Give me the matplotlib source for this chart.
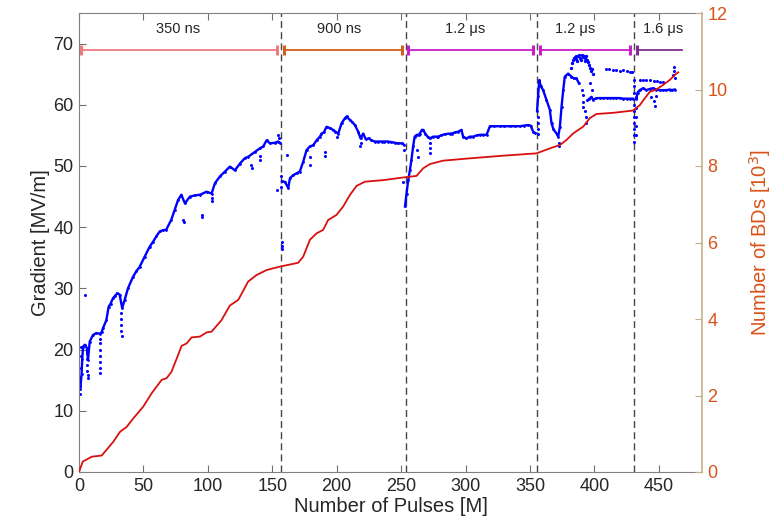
import matplotlib
matplotlib.use("Agg")
import matplotlib.pyplot as plt
import numpy as np

plt.rcParams['font.family'] = ['Liberation Sans', 'DejaVu Sans']

# ---------------- data ----------------
# Gradient main traces per pulse-length phase (x: M pulses, y: MV/m)
p1_x = [1.0, 2.0, 2.5, 3.2, 4.5, 6.0, 7.0, 8.3, 10.9, 13.4, 16.0, 17.5, 18.6, 21.2, 23.0,
        24.5, 26.4, 28.0, 29.7, 31.5, 33.5, 35.4, 38.0, 41.9, 44.5, 47.0, 51.0, 54.8, 57.4, 60.0,
        62.6, 65.0, 67.7, 71.6, 74.2, 76.8, 79.4, 82.2, 86.1, 90.0, 93.9, 99.0, 102.9, 105.5, 109.4,
        113.3, 117.1, 121.0, 124.9, 128.8, 131.3, 136.5, 140.4, 143.0, 145.6, 148.2, 152.0, 154.6, 156.0]
p1_y = [13.5, 16.0, 18.5, 20.5, 20.8, 20.3, 18.3, 21.3, 22.4, 22.7, 22.6, 22.8, 23.5, 24.8, 27.0,
        27.5, 28.4, 28.8, 29.2, 29.0, 26.8, 28.1, 30.0, 31.9, 32.8, 33.5, 35.2, 36.8, 37.6, 38.5,
        39.3, 39.5, 39.6, 41.2, 42.8, 44.4, 45.3, 43.9, 45.0, 45.2, 45.3, 45.8, 45.5, 47.2, 48.3,
        49.1, 49.9, 49.3, 50.4, 51.3, 51.5, 52.3, 52.9, 53.2, 54.2, 53.7, 53.8, 54.0, 53.8]

p2_x = [157.5, 159.8, 162.4, 163.7, 166.2, 168.8, 171.4, 174.0, 176.6, 179.2, 181.8, 184.4, 187.0, 188.2,
        190.0, 192.1, 194.5, 197.3, 199.0, 201.2, 203.8, 206.4, 207.7, 210.3, 212.0, 214.1, 216.7, 218.5,
        220.5, 222.5, 225.0, 227.0, 229.6, 232.0, 234.8, 237.0, 240.0, 242.5, 245.1, 247.5, 250.3, 252.0]
p2_y = [47.5, 47.4, 46.4, 48.0, 48.5, 48.8, 49.1, 50.7, 52.6, 53.2, 53.4, 54.2, 54.8, 55.3,
        55.5, 56.4, 56.2, 55.9, 55.6, 55.3, 57.0, 57.8, 58.1, 57.5, 57.2, 56.7, 55.6, 54.5,
        55.3, 54.4, 54.5, 54.2, 54.0, 54.0, 54.0, 54.0, 54.0, 53.9, 53.8, 53.7, 53.7, 53.5]

p3_x = [253.0, 254.2, 255.5, 256.8, 258.0, 259.3, 260.5, 262.2, 263.5, 264.5, 266.1, 267.1, 268.7, 270.5,
        272.3, 274.9, 277.5, 278.7, 281.0, 284.0, 287.8, 289.1, 292.0, 294.2, 296.8, 298.1, 300.7, 303.3,
        305.9, 308.5, 311.1, 313.7, 316.3, 318.9, 322.0, 326.6, 330.0, 334.4, 338.0, 342.1, 345.5, 348.6,
        350.5, 352.5, 354.0]
p3_y = [43.4, 45.5, 47.7, 49.3, 51.0, 53.2, 54.8, 55.1, 55.1, 55.3, 55.9, 55.9, 55.3, 54.8,
        54.5, 54.8, 54.8, 54.8, 55.0, 55.2, 55.3, 55.3, 55.5, 55.6, 55.9, 54.8, 54.5, 54.8,
        54.8, 55.0, 55.1, 55.1, 55.1, 56.5, 56.5, 56.5, 56.5, 56.5, 56.5, 56.5, 56.6, 56.7,
        56.6, 55.6, 55.4]

p4_x = [355.5, 356.3, 357.2, 358.5, 360.2, 362.8, 365.4, 366.7, 368.2, 370.6, 371.9, 373.2, 374.5,
        375.8, 377.0, 379.6, 382.2, 384.0, 386.1, 388.0]
p4_y = [59.0, 61.5, 64.0, 63.0, 62.4, 60.8, 59.2, 57.0, 56.0, 55.3, 54.8, 56.4, 59.7,
        62.4, 64.6, 65.1, 64.6, 64.3, 64.3, 63.5]
p4b_x = [396.0, 397.7, 399.0, 401.6, 404.2, 407.0, 409.5, 412.0, 414.5, 417.0, 419.7,
         422.3, 425.0, 427.5, 430.0]
p4b_y = [61.0, 61.3, 60.8, 61.1, 61.1, 61.1, 61.1, 61.1, 61.1, 61.1, 61.1,
         61.0, 61.0, 61.0, 61.0]
p4c_x = [381.5, 382.5, 383.5, 384.2, 385.0, 385.6, 386.1, 387.0, 388.0, 389.0, 390.0, 391.0,
         392.0, 393.0, 393.8, 394.5, 395.1, 395.8, 396.5, 397.5, 398.2, 399.0, 386.5, 389.5, 392.5]
p4c_y = [66.0, 66.8, 67.3, 67.6, 67.8, 67.5, 67.9, 68.0, 68.1, 67.7, 68.1, 67.8,
         68.0, 67.6, 67.9, 67.4, 67.0, 66.5, 66.0, 65.5, 65.8, 65.1, 67.2, 67.3, 67.2]

p5_x = [432.6, 433.5, 435.2, 437.8, 440.4, 443.0, 445.5, 448.0, 450.7, 453.3, 455.9, 458.5, 460.0, 462.4]
p5_y = [61.0, 62.0, 62.4, 62.7, 62.4, 62.6, 62.7, 62.5, 62.4, 62.4, 62.4, 62.5, 62.4, 62.5]

# sparse / scattered gradient points
stray_x = [0.8, 1.0, 1.0, 1.1, 1.2, 1.3, 1.5,
           6.4, 6.4, 6.5, 6.5, 6.6, 6.6,
           16.0, 16.0, 16.1, 16.1, 16.2, 16.2, 16.3,
           32.8, 32.8, 32.9, 32.9, 33.0,
           4.9, 80.7, 81.2, 95.2, 95.8, 102.9, 103.0, 134.0, 133.6, 140.4, 140.5,
           154.6, 155.2, 154.0, 157.2, 157.2, 157.3, 156.8, 156.9,
           161.1, 179.2, 179.3, 190.8, 191.3, 199.9, 218.0, 218.5,
           251.6, 252.2, 262.6, 263.2, 272.3, 272.4, 272.5,
           356.3, 356.4, 356.5, 356.6, 372.5, 372.6,
           390.5, 390.8, 391.2, 391.5, 392.8, 393.5, 393.8, 394.5, 396.5, 398.0,
           409.0, 411.0, 414.5, 417.0, 419.7, 422.3, 425.0, 427.5, 429.5,
           430.5, 430.5, 430.6, 430.6, 430.7, 430.7, 430.8, 430.8, 430.9, 430.9,
           432.0, 432.0, 432.1, 432.1, 432.2,
           435.2, 437.5, 440.0, 443.0, 446.0, 448.5, 450.7, 453.0,
           444.0, 446.0, 448.0, 447.0, 461.1, 461.6, 462.1, 462.4]
stray_y = [12.8, 14.0, 14.8, 15.5, 17.0, 19.0, 20.5,
           19.5, 18.5, 17.5, 16.5, 15.8, 15.3,
           21.8, 21.0, 20.0, 19.0, 18.0, 17.0, 16.2,
           26.0, 25.0, 24.0, 23.0, 22.2,
           28.9, 41.2, 40.8, 42.0, 41.6, 44.8, 44.2, 49.6, 50.2, 51.6, 51.0,
           55.1, 54.6, 46.1, 37.6, 37.0, 36.4, 48.3, 46.6,
           51.8, 51.5, 50.2, 52.3, 51.7, 54.8, 53.2, 53.8,
           47.4, 52.6, 52.6, 51.5, 53.8, 53.0, 52.1,
           58.0, 57.0, 56.0, 55.2, 53.8, 53.2,
           62.4, 61.6, 60.4, 59.6, 59.0, 58.0, 57.0, 60.8, 63.5, 62.5,
           65.9, 65.8, 65.7, 65.7, 65.6, 65.7, 65.5, 65.4, 65.3,
           64.0, 63.0, 62.0, 60.0, 59.0, 58.0, 57.0, 56.0, 55.0, 54.0,
           61.3, 59.5, 58.0, 56.5, 55.1,
           64.0, 64.0, 64.1, 64.0, 63.9, 63.9, 63.8, 63.7,
           61.2, 60.6, 61.5, 59.8, 64.9, 65.6, 66.2, 64.3]

# cumulative breakdowns (thousands)
bd_x = [0, 2.9, 9.8, 17.6, 21.4, 26.6, 31.8, 37.0, 42.1, 49.9, 56.4, 64.2, 67.9, 71.8, 79.7,
        83.5, 87.4, 93.9, 99.0, 102.9, 110.6, 117.0, 123.6, 131.3, 137.8, 145.6, 156.0, 170.1, 174.0,
        179.2, 184.4, 189.5, 193.4, 199.8, 205.0, 210.2, 215.4, 221.9, 236.0, 251.6, 261.9, 267.1,
        272.3, 282.6, 303.3, 329.2, 355.0, 365.4, 373.2, 378.3, 383.5, 391.3, 396.4, 401.6, 414.5,
        430.0, 435.2, 439.1, 443.0, 448.1, 453.3, 458.5, 462.4, 465.0]
bd_k = [0.0, 0.27, 0.40, 0.43, 0.58, 0.79, 1.05, 1.18, 1.40, 1.71, 2.06, 2.41, 2.45, 2.62, 3.30,
        3.36, 3.52, 3.54, 3.65, 3.67, 3.97, 4.35, 4.50, 4.98, 5.15, 5.28, 5.37, 5.47, 5.63,
        6.07, 6.24, 6.33, 6.59, 6.72, 6.94, 7.24, 7.48, 7.59, 7.63, 7.70, 7.74, 7.94,
        8.05, 8.14, 8.20, 8.27, 8.33, 8.46, 8.55, 8.68, 8.85, 9.03, 9.25, 9.36, 9.39,
        9.45, 9.59, 9.77, 9.94, 10.00, 10.12, 10.25, 10.38, 10.45]

# pulse-length phases
phase_bounds = [156.5, 253.5, 355.5, 431.0]
phase_labels = ['350 ns', '900 ns', '1.2 μs', '1.2 μs', '1.6 μs']
phase_label_x = [77, 202, 300, 385, 453]
arrow_start = [1.3, 159.0, 255.5, 357.6, 433.0]
arrow_end = [153.3, 250.3, 352.0, 427.5, 468.3]
arrow_colors = ['#f07a80', '#d0601a', '#c81ec8', '#c81ec8', '#7e2f8e']
arrow_right_tick = [True, True, True, True, False]

# ---------------- plot ----------------
fig = plt.figure(figsize=(7.79, 5.30), dpi=100)
ax = fig.add_axes([79/779, 1 - 472/530, (702 - 79)/779, (472 - 13)/530])

blue = '#0000ff'
for xs, ys in [(p1_x, p1_y), (p2_x, p2_y), (p3_x, p3_y), (p4_x, p4_y), (p4b_x, p4b_y),
               (p5_x, p5_y)]:
    ax.plot(xs, ys, color=blue, lw=1.7, marker='o', ms=2.0, mew=0)
ax.plot(p4c_x, p4c_y, ls='none', color=blue, marker='o', ms=2.4, mew=0)
ax.plot(stray_x, stray_y, ls='none', color=blue, marker='o', ms=2.2, mew=0)

for xb in phase_bounds:
    ax.axvline(xb, color='#454545', ls=(0, (5, 3)), lw=1.0, zorder=1)

for x0, x1, c, lab, lx, rt in zip(arrow_start, arrow_end, arrow_colors, phase_labels,
                                  phase_label_x, arrow_right_tick):
    ax.plot([x0, x1], [69, 69], color=c, lw=1.3)
    ax.plot([x0], [69], marker='|', ms=7, mew=2.2, color=c)
    if rt:
        ax.plot([x1], [69], marker='|', ms=7, mew=2.2, color=c)
    ax.text(lx, 71.3, lab, ha='center', va='bottom', fontsize=10.5, color='#262626')

ax.set_xlim(0, 483.5)
ax.set_ylim(0, 75)
ax.set_xticks(np.arange(0, 451, 50))
ax.set_yticks(np.arange(0, 71, 10))
ax.tick_params(direction='in', length=5, labelsize=13, colors='#262626', top=True,
               pad=4)
ax.tick_params(axis='x', which='both', color='#707070')
ax.tick_params(axis='y', which='both', color='#707070')
for s in ['left', 'top', 'bottom']:
    ax.spines[s].set_color('#808080')
ax.spines['right'].set_visible(False)
ax.set_xlabel('Number of Pulses [M]', fontsize=14.5, color='#262626', labelpad=2)
ax.set_ylabel('Gradient [MV/m]', fontsize=14.5, color='#262626', labelpad=2)

orange = '#d95319'
ax2 = ax.twinx()
ax2.plot(bd_x, bd_k, color='#d81010', lw=1.3)
ax2.set_ylim(0, 12)
ax2.set_yticks(np.arange(0, 13, 2))
ax2.tick_params(direction='in', length=5, labelsize=13, colors=orange, pad=4)
ax2.tick_params(axis='y', color='#c8b08c')
for s in ['left', 'top', 'bottom']:
    ax2.spines[s].set_visible(False)
ax2.spines['right'].set_color('#c8b08c')
ax2.spines['right'].set_linewidth(1.2)
ax2.set_ylabel('Number of BDs [10$^3$]', fontsize=14.5, color=orange, labelpad=14)

fig.savefig('out.png', dpi=100)
